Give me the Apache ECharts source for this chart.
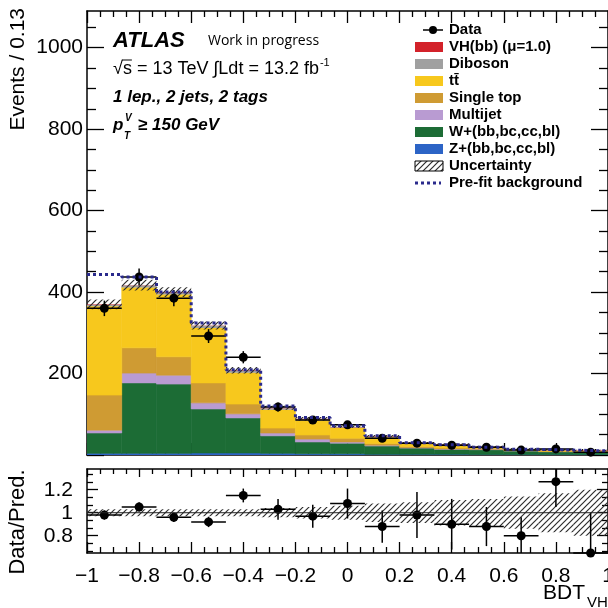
<!DOCTYPE html>
<html>
<head>
<meta charset="utf-8">
<script src="https://cdn.jsdelivr.net/npm/echarts@6/dist/echarts.min.js"></script>
<style>
  html, body { margin: 0; padding: 0; background: #fff; }
  #chart { width: 608px; height: 608px; }
</style>
</head>
<body>
<div id="chart"></div>
<script>
// ---- binning (15 bins of 2/15 on the BDT output) ----
const binEdges = [-1, -0.8667, -0.7333, -0.6, -0.4667, -0.3333, -0.2, -0.0667,
                  0.0667, 0.2, 0.3333, 0.4667, 0.6, 0.7333, 0.8667, 1];

// ---- post-fit yields per bin, listed from the bottom of the stack upwards ----
const zjets     = [4, 4, 4, 5, 5, 4, 3, 3, 2, 2, 2, 1, 1, 1, 1];
const wjets     = [50, 173, 170, 108, 86, 43, 29, 26, 20, 15, 12, 12, 9, 7, 6];
const multijet  = [7, 24, 22, 15, 10, 7, 7, 3, 2, 1, 1, 1, 0.5, 0.5, 0.5];
const singleTop = [86, 62, 45, 49, 24, 12, 10, 9, 4, 3, 2, 2, 1.5, 1, 0.5];
const ttbar     = [218, 148, 153, 135, 77, 45, 36, 25, 15, 7, 7, 3, 1.5, 1, 1];
const diboson   = [4, 5, 5, 5, 5, 4, 3, 2, 2, 1, 2, 1, 1, 1, 1];
const vhSignal  = [1, 1, 1, 1, 1, 1, 1, 1, 1, 1, 1, 1, 0.5, 0.5, 1];

// total background uncertainty (absolute, per bin)
const totalUnc  = [12, 13, 12, 10, 8, 5, 4, 3, 3, 2, 2, 2, 2, 2, 2];
// pre-fit background total
const prefit    = [443, 437, 400, 324, 209, 120, 92, 72, 47, 30, 25, 19, 14, 12, 10];

// observed data and its statistical error
const dataCounts = [360, 437, 385, 292, 240, 118, 86, 74, 41, 29, 24, 19, 12, 15, 7];
const dataErr    = [19, 21, 20, 17, 15, 11, 9, 9, 6, 5, 5, 4, 3.5, 4, 2.6];

// ratio panel
const ratioVals = [0.98, 1.05, 0.96, 0.92, 1.15, 1.03, 0.97, 1.08, 0.88, 0.98, 0.90, 0.88, 0.80, 1.27, 0.65];
const ratioErr  = [0.04, 0.04, 0.04, 0.045, 0.06, 0.09, 0.1, 0.13, 0.14, 0.2, 0.22, 0.17, 0.16, 0.22, 0.35];
const ratioUnc  = [0.03, 0.03, 0.03, 0.03, 0.03, 0.04, 0.05, 0.06, 0.08, 0.09, 0.11, 0.12, 0.14, 0.17, 0.2];

// ---- axis ticks and labels ----
const mainYMajor  = [0, 200, 400, 600, 800, 1000];
const mainYLabels = [200, 400, 600, 800, 1000];
const mainYMinor  = [50, 100, 150, 250, 300, 350, 450, 500, 550, 650, 700, 750, 850, 900, 950, 1050];
const ratioYMajor = [0.8, 1, 1.2];
const ratioYMinor = [0.6667, 0.7333, 0.8667, 0.9333, 1.0667, 1.1333, 1.2667, 1.3333];

const MAIN_YMAX = 1090;
const RATIO_YMIN = 0.65, RATIO_YMAX = 1.38;

const FONT = '"Liberation Sans", Arial, Helvetica, sans-serif';

// thin layers are drawn without an outline so they stay hairline-thin
const layers = [
  { name: 'Z+(bb,bc,cc,bl)',  values: zjets,     color: '#2c64c6', outline: true },
  { name: 'W+(bb,bc,cc,bl)',  values: wjets,     color: '#1c6c35', outline: true },
  { name: 'Multijet',         values: multijet,  color: '#b99bd2', outline: true },
  { name: 'Single top',       values: singleTop, color: '#cf9b33', outline: true },
  { name: 'tt\u0304',         values: ttbar,     color: '#f7c81d', outline: true },
  { name: 'Diboson',          values: diboson,   color: '#a0a0a0', outline: false },
  { name: 'VH(bb) (\u03bc=1.0)', values: vhSignal, color: '#d3222a', outline: false }
];

// diagonal "///" hatch used for the uncertainty bands
function hatchCanvas(color, size, lw) {
  const c = document.createElement('canvas');
  c.width = size; c.height = size;
  const g = c.getContext('2d');
  g.strokeStyle = color; g.lineWidth = lw;
  g.beginPath();
  g.moveTo(0, size); g.lineTo(size, 0);
  g.moveTo(-size / 2, size / 2); g.lineTo(size / 2, -size / 2);
  g.moveTo(size / 2, size * 1.5); g.lineTo(size * 1.5, size / 2);
  g.stroke();
  return c;
}
const hatch = hatchCanvas('#2e2e2e', 6, 1.2);

// width of a string in a given font, for placing superscripts
const measureCtx = document.createElement('canvas').getContext('2d');
function textWidth(text, font) {
  measureCtx.font = font;
  return measureCtx.measureText(text).width;
}

// ---- helpers ----
function rectRender(fill, stroke) {
  return function (params, api) {
    const p0 = api.coord([api.value(0), api.value(3)]);
    const p1 = api.coord([api.value(1), api.value(2)]);
    return {
      type: 'rect',
      shape: { x: p0[0], y: p0[1], width: p1[0] - p0[0], height: p1[1] - p0[1] },
      style: stroke ? { fill: fill, stroke: fill, lineWidth: 0.6 } : { fill: fill }
    };
  };
}

function pointRender(params, api) {
  const lo = api.value(0), hi = api.value(1), y = api.value(2), e = api.value(3);
  const mid = (lo + hi) / 2;
  const c = api.coord([mid, y]);
  const l = api.coord([lo, y]), r = api.coord([hi, y]);
  const t = api.coord([mid, y + e]), b = api.coord([mid, y - e]);
  const cs = params.coordSys;
  const top = Math.max(t[1], cs.y), bot = Math.min(b[1], cs.y + cs.height);
  return {
    type: 'group',
    children: [
      { type: 'line', shape: { x1: l[0], y1: c[1], x2: r[0], y2: c[1] }, style: { stroke: '#000', lineWidth: 1.5 } },
      { type: 'line', shape: { x1: c[0], y1: top, x2: c[0], y2: bot }, style: { stroke: '#000', lineWidth: 1.5 } },
      { type: 'circle', shape: { cx: c[0], cy: c[1], r: 4.5 }, style: { fill: '#000' } }
    ]
  };
}

// ---- series ----
const series = [];
let base = new Array(binEdges.length - 1).fill(0);
layers.forEach(function (layer) {
  const data = layer.values.map(function (v, i) {
    return [binEdges[i], binEdges[i + 1], base[i], base[i] + v];
  });
  base = base.map(function (b, i) { return b + layer.values[i]; });
  series.push({
    type: 'custom', name: layer.name, xAxisIndex: 0, yAxisIndex: 0,
    clip: true, renderItem: rectRender(layer.color, layer.outline), data: data
  });
});
const totals = base.slice();

// uncertainty band on the stack
series.push({
  type: 'custom', name: 'Uncertainty', xAxisIndex: 0, yAxisIndex: 0, clip: true,
  renderItem: rectRender({ image: hatch, repeat: 'repeat' }, false),
  data: totals.map(function (t, i) { return [binEdges[i], binEdges[i + 1], t - totalUnc[i], t + totalUnc[i]]; })
});

// pre-fit background as a dotted step line
const prefitSteps = prefit.map(function (v, i) { return [binEdges[i], v]; });
prefitSteps.push([binEdges[binEdges.length - 1], prefit[prefit.length - 1]]);
series.push({
  type: 'line', name: 'Pre-fit background', xAxisIndex: 0, yAxisIndex: 0,
  step: 'end', showSymbol: false, symbol: 'none', clip: true,
  lineStyle: { color: '#2a2a8c', width: 3, type: [3, 3] },
  data: prefitSteps
});

// data
series.push({
  type: 'custom', name: 'Data', xAxisIndex: 0, yAxisIndex: 0, clip: false,
  renderItem: pointRender,
  data: dataCounts.map(function (v, i) { return [binEdges[i], binEdges[i + 1], v, dataErr[i]]; })
});

// ratio: band, unity line, points
series.push({
  type: 'custom', xAxisIndex: 2, yAxisIndex: 4, clip: true,
  renderItem: rectRender({ image: hatch, repeat: 'repeat' }, false),
  data: ratioUnc.map(function (u, i) { return [binEdges[i], binEdges[i + 1], 1 - u, 1 + u]; })
});
series.push({
  type: 'line', xAxisIndex: 2, yAxisIndex: 4, showSymbol: false, symbol: 'none',
  lineStyle: { color: '#222', width: 1 },
  data: [[binEdges[0], 1], [binEdges[binEdges.length - 1], 1]]
});
series.push({
  type: 'custom', xAxisIndex: 2, yAxisIndex: 4, clip: false,
  renderItem: pointRender,
  data: ratioVals.map(function (v, i) { return [binEdges[i], binEdges[i + 1], v, ratioErr[i]]; })
});

// ---- axes ----
const lineStyle = { color: '#000', width: 1.5 };
const tickStyle = { color: '#000', width: 1.3 };

function xAxisDef(grid, pos, major, minor, labels) {
  return {
    type: 'value', gridIndex: grid, position: pos, min: -1, max: 1, interval: 0.2,
    axisLine: { show: true, onZero: false, lineStyle: lineStyle },
    axisTick: { show: true, inside: true, length: major, lineStyle: tickStyle },
    minorTick: { show: true, splitNumber: 4, length: minor, lineStyle: tickStyle },
    splitLine: { show: false }, minorSplitLine: { show: false },
    axisLabel: labels ? {
      show: true, margin: 13, color: '#000', fontSize: 21, fontFamily: FONT,
      formatter: function (v) {
        const s = Math.abs(v) < 1e-9 ? '0' : String(+v.toFixed(1));
        return s.replace('-', '\u2212');
      }
    } : { show: false }
  };
}

function yAxisDef(grid, pos, min, max, ticks, len, showLine, labels, margin) {
  return {
    type: 'value', gridIndex: grid, position: pos, min: min, max: max,
    axisLine: { show: showLine, onZero: false, lineStyle: lineStyle },
    axisTick: { show: true, inside: true, length: len, customValues: ticks, lineStyle: tickStyle },
    minorTick: { show: false },
    splitLine: { show: false },
    axisLabel: labels ? {
      show: true, customValues: labels, margin: margin, color: '#000',
      fontSize: 21, fontFamily: FONT,
      formatter: function (v) { return String(v); }
    } : { show: false }
  };
}

function txt(x, y, text, font, extra) {
  return Object.assign({
    type: 'text', x: x, y: y, silent: true,
    style: { text: text, font: font, fill: '#000', align: 'left', verticalAlign: 'middle' }
  }, extra || {});
}

function buildGraphics() {
  const g = [];
  // axis titles
  g.push({ type: 'text', x: 18, y: 8, rotation: Math.PI / 2,
    style: { text: 'Events / 0.13', font: '21px ' + FONT, fill: '#000', align: 'right', verticalAlign: 'middle' } });
  g.push({ type: 'text', x: 18, y: 522, rotation: Math.PI / 2,
    style: { text: 'Data/Pred.', font: '22px ' + FONT, fill: '#000', align: 'center', verticalAlign: 'middle' } });
  g.push(txt(543, 593, 'BDT', '21px ' + FONT));
  g.push(txt(587, 603, 'VH', '15px ' + FONT));

  // experiment labels
  g.push(txt(113, 41, 'ATLAS', 'italic bold 22px ' + FONT));
  g.push(txt(208, 41, 'Work in progress', '14px "Open Sans", sans-serif'));
  const lumiFont = '18px ' + FONT;
  const lumiText = '\u221as = 13 TeV \u222bLdt = 13.2 fb';
  g.push(txt(113, 69, lumiText, lumiFont));
  g.push(txt(113 + textWidth(lumiText, lumiFont) + 1, 63, '-1', '11px ' + FONT));
  const sqrtW = textWidth('\u221a', lumiFont);
  const sW = textWidth('s', lumiFont);
  g.push({ type: 'line', silent: true, shape: { x1: 113 + sqrtW - 1, y1: 60, x2: 113 + sqrtW + sW, y2: 60 },
    style: { stroke: '#000', lineWidth: 1 } });
  g.push(txt(113, 97.5, '1 lep., 2 jets, 2 tags', 'italic bold 17px ' + FONT));
  g.push(txt(113, 125, 'p', 'italic bold 17px ' + FONT));
  g.push(txt(125, 118, 'V', 'italic bold 10px ' + FONT));
  g.push(txt(124, 136, 'T', 'italic bold 10px ' + FONT));
  g.push(txt(138, 125, '\u2265 150 GeV', 'italic bold 17px ' + FONT));

  // legend
  const lx = 415, lw = 28, tx = 449, y0 = 30, dy = 17;
  const legendFont = 'bold 15px ' + FONT;
  g.push({ type: 'line', silent: true, shape: { x1: 423, y1: y0, x2: 443, y2: y0 }, style: { stroke: '#000', lineWidth: 1.5 } });
  g.push({ type: 'circle', silent: true, shape: { cx: 433, cy: y0, r: 4 }, style: { fill: '#000' } });
  g.push(txt(tx, y0, 'Data', legendFont));
  const order = layers.slice().reverse();
  order.forEach(function (layer, k) {
    const y = y0 + dy * (k + 1);
    g.push({ type: 'rect', silent: true, shape: { x: lx, y: y - 5, width: lw, height: 10 }, style: { fill: layer.color } });
    g.push(txt(tx, y, layer.name, legendFont));
  });
  const yu = y0 + dy * 8;
  g.push({ type: 'rect', silent: true, shape: { x: lx, y: yu - 5, width: lw, height: 10 },
    style: { fill: { image: hatch, repeat: 'repeat' }, stroke: '#000', lineWidth: 1 } });
  g.push(txt(tx, yu, 'Uncertainty', legendFont));
  const yp = y0 + dy * 9;
  g.push({ type: 'line', silent: true, shape: { x1: lx, y1: yp, x2: lx + 26, y2: yp },
    style: { stroke: '#2a2a8c', lineWidth: 3, lineDash: [3, 3] } });
  g.push(txt(tx, yp, 'Pre-fit background', legendFont));
  return g;
}

const option = {
  animation: false,
  backgroundColor: '#fff',
  grid: [
    { left: 87, top: 11, right: 0, height: 444, outerBoundsMode: 'none', containLabel: false },
    { left: 87, top: 469, right: 0, height: 84, outerBoundsMode: 'none', containLabel: false }
  ],
  xAxis: [
    xAxisDef(0, 'bottom', 12, 6, false),
    xAxisDef(0, 'top', 12, 6, false),
    xAxisDef(1, 'bottom', 11, 6, true),
    xAxisDef(1, 'top', 8, 5, false)
  ],
  yAxis: [
    yAxisDef(0, 'left', 0, MAIN_YMAX, mainYMajor, 17, true, mainYLabels, 4),
    yAxisDef(0, 'left', 0, MAIN_YMAX, mainYMinor, 9, false, null),
    yAxisDef(0, 'right', 0, MAIN_YMAX, mainYMajor, 17, true, null),
    yAxisDef(0, 'right', 0, MAIN_YMAX, mainYMinor, 9, false, null),
    yAxisDef(1, 'left', RATIO_YMIN, RATIO_YMAX, ratioYMajor, 11, true, ratioYMajor, 14),
    yAxisDef(1, 'left', RATIO_YMIN, RATIO_YMAX, ratioYMinor, 6, false, null),
    yAxisDef(1, 'right', RATIO_YMIN, RATIO_YMAX, ratioYMajor, 11, true, null),
    yAxisDef(1, 'right', RATIO_YMIN, RATIO_YMAX, ratioYMinor, 6, false, null)
  ],
  series: series,
  graphic: buildGraphics()
};

const chart = echarts.init(document.getElementById('chart'), null, { renderer: 'canvas' });
chart.setOption(option);
</script>
</body>
</html>
